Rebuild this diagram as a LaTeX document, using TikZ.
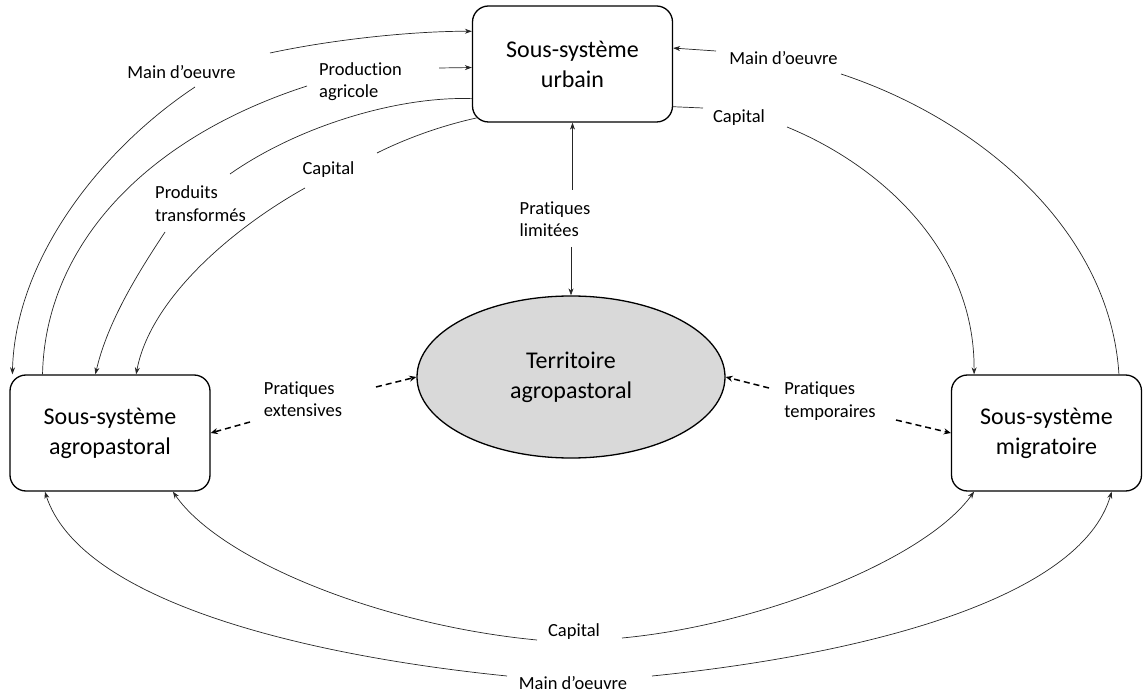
\documentclass[tikz,border=0pt]{standalone}
\usepackage{fontspec}
\setmainfont{Carlito}[Ligatures=CommonOff]
\usetikzlibrary{shapes.geometric, arrows.meta, positioning}
\definecolor{terrgray}{RGB}{217,217,217}
\def\Hsub{116pt}
\def\Wsub{200pt}
\tikzstyle{every node} = [font=\fontsize{18.5}{22.5}\selectfont, inner sep=2pt]
\tikzstyle{link}      = [line width=0.7pt, black!85]
\tikzstyle{arrow}     = [link, ->, >={Stealth[length=7pt, width=5pt]}]
\tikzstyle{dasharrow} = [->, >={Stealth[length=7pt, width=6pt]}, line width=1.5pt, dash pattern=on 6pt off 4pt]
\tikzstyle{subsys}    = [rectangle, rounded corners=16pt, draw=black, line width=1.3pt, minimum width=\Wsub, minimum height=\Hsub, align=center, font=\fontsize{24}{30}\selectfont]
\tikzstyle{territ}    = [ellipse, draw=black, line width=1.3pt, fill=terrgray, minimum width=308pt, minimum height=162pt, inner sep=0pt, align=center, font=\fontsize{24}{30}\selectfont]
\tikzstyle{lbl}       = [align=left]

\begin{document}
\begin{tikzpicture}[x=1pt, y=-1pt]
\useasboundingbox (0,0) rectangle (1143,692);
% Objects
    % Sub-systems
    \node (urban) [subsys]                      at (572.5,64)  {Sous-système\\urbain};
    \node (agro)  [subsys]                      at (110,433)   {Sous-système\\agropastoral};
    \node (migr)  [subsys, minimum width=190pt] at (1046.5,433) {Sous-système\\migratoire};
    % Territory
    \node (terr)  [territ]                      at (571,377)   {Territoire\\agropastoral};

% Flow texts
    \node (md1)    [lbl] at (181.5,72)  {Main d’oeuvre};
    \node (pagr)   [lbl] at (360.5,81.5) {Production\\agricole};
    \node (ptrans) [lbl] at (200.5,203.5) {Produits\\transformés};
    \node (cap1)   [lbl] at (328.5,170) {Capital};
    \node (md2)    [lbl] at (783.5,58)  {Main d’oeuvre};
    \node (cap2)   [lbl] at (739,118)   {Capital};
    \node (plim)   [lbl] at (555,219)   {Pratiques\\limitées};
    \node (pext)   [lbl] at (303,399)   {Pratiques\\extensives};
    \node (ptemp)  [lbl] at (830,401)   {Pratiques\\temporaires};
    \node (capb)   [lbl] at (574,632)   {Capital};
    \node (mdb)    [lbl] at (573,683)   {Main d’oeuvre};

% Loose ends next to the texts
    \coordinate (m1a) at (195,87);   \coordinate (m1b) at (270,53);
    \coordinate (p1a) at (307,86);   \coordinate (p1b) at (439,68);
    \coordinate (t1a) at (230,174);  \coordinate (t1b) at (165,232);
    \coordinate (c1a) at (377,153);  \coordinate (c1b) at (305,188);
    \coordinate (m2a) at (716,51);   \coordinate (m2b) at (841,74);
    \coordinate (c2a) at (703,108);  \coordinate (c2b) at (787,127);
    \coordinate (l1a) at (572.5,190); \coordinate (l1b) at (571,247);
    \coordinate (cb1) at (537,640);  \coordinate (cb2) at (622,638);
    \coordinate (mb1) at (507,676);  \coordinate (mb2) at (652,676);
    \coordinate (de1) at (250,422);  \coordinate (de2) at (376,387);
    \coordinate (dt1) at (769,388);  \coordinate (dt2) at (896,420);
    \coordinate (ucorner) at ([shift={(4.7pt,4.7pt)}]urban.south west);

% Arrows
    % Urbain and agropastoral
    \draw [arrow] (m1a) .. controls (100,150) and (15,260) .. (agro.149);
    \draw [arrow] (m1b) .. controls (340,38) and (420,31) .. (urban.162);
    \draw [link]  (agro.139) .. controls (45,250) and (140,140) .. (p1a);
    \draw [arrow] (p1b) -- (urban.182);
    \draw [link]  (urban.199) .. controls (400,96) and (300,125) .. (t1a);
    \draw [arrow] (t1b) .. controls (140,270) and (108,320) .. (agro.104);
    \draw [link]  (ucorner) .. controls (440,126) and (405,139) .. (c1a);
    \draw [arrow] (c1b) .. controls (230,230) and (150,300) .. (agro.66);
    % Urbain and migratoire
    \draw [arrow] (m2a) -- (urban.9);
    \draw [link]  (migr.39) .. controls (1110,230) and (980,120) .. (m2b);
    \draw [link]  (urban.337) -- (c2a);
    \draw [arrow] (c2b) .. controls (880,165) and (975,250) .. (migr.141);
    % Urbain and territoire
    \draw [arrow] (l1a) -- (urban.south);
    \draw [arrow] (l1b) -- (terr.north);
    % Agropastoral and migratoire
    \draw [arrow] (cb1) .. controls (380,625) and (220,560) .. (agro.317);
    \draw [arrow] (cb2) .. controls (760,625) and (925,560) .. (migr.219);
    \draw [arrow] (mb1) .. controls (300,655) and (80,600) .. (agro.222);
    \draw [arrow] (mb2) .. controls (860,655) and (1080,600) .. (migr.318);
    % Practices
    \draw [dasharrow] (de1) -- (agro.east);
    \draw [dasharrow] (de2) -- (terr.west);
    \draw [dasharrow] (dt1) -- (terr.east);
    \draw [dasharrow] (dt2) -- (migr.west);
\end{tikzpicture}
\end{document}
